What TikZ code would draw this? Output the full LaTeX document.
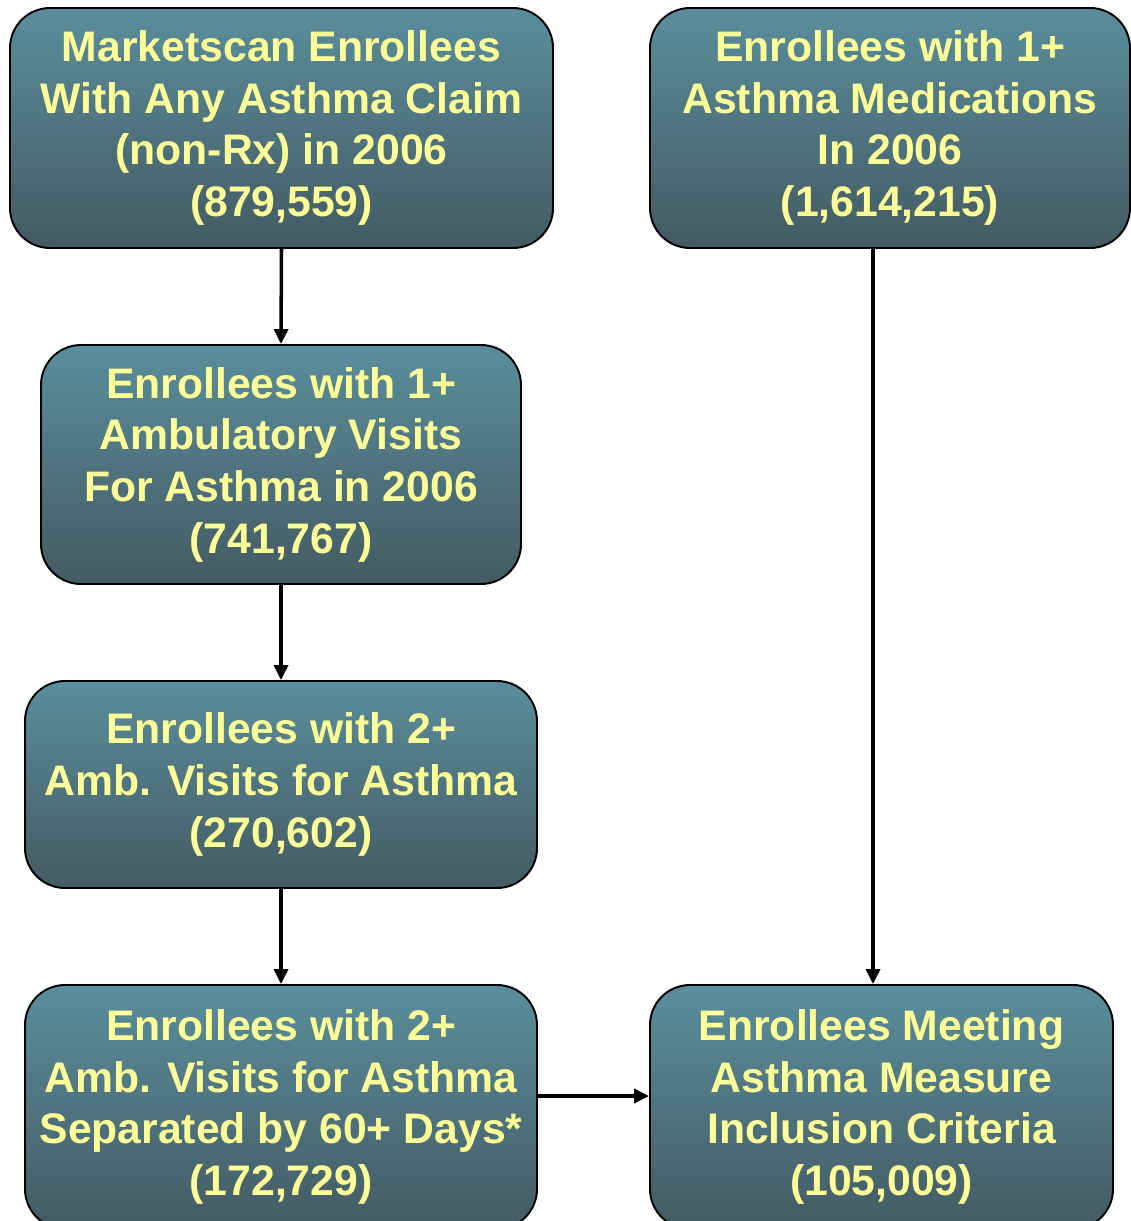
\documentclass[tikz,border=0pt]{standalone}
\usepackage{fontspec}
\setmainfont{Liberation Sans}
\usetikzlibrary{arrows.meta}
\definecolor{boxtop}{HTML}{5A8E9C}
\definecolor{boxbot}{HTML}{445A62}
\definecolor{boxtext}{HTML}{FFFF99}
\begin{document}
\begin{tikzpicture}[x=0.02cm, y=-0.02cm,
	box/.style 2 args={draw=black, line width=1.1pt, rounded corners=0.8cm,
		top color=boxtop, bottom color=boxbot, text=boxtext, align=center,
		font=\fontsize{24.3}{29.4}\selectfont\bfseries, inner sep=0pt,
		minimum width=#1*0.02cm, minimum height=#2*0.02cm},
	arr/.style={line width=2pt, -{Triangle[length=0.3cm, width=0.28cm]}}]
		\useasboundingbox (0,0) rectangle (1131,1221);
		\clip (0,0) rectangle (1131,1221);
		
		\node[box={543}{240}] (claim) at (281.5,128) {Marketscan Enrollees\\With Any Asthma Claim\\(non-Rx) in 2006\\(879,559)};
		\node[box={480}{240}] (meds) at (890,128) {Enrollees with 1+\\Asthma Medications\\In 2006\\(1,614,215)};
		\node[box={480}{239}] (amb) at (281,464.5) {Enrollees with 1+\\Ambulatory Visits\\For Asthma in 2006\\(741,767)};
		\node[box={512}{207}] (twoamb) at (281,784.5) {Enrollees with 2+\\Amb. Visits for Asthma\\(270,602)};
		\node[box={512}{244}] (sep) at (281,1107) {Enrollees with 2+\\Amb. Visits for Asthma\\Separated by 60+ Days*\\(172,729)};
		\node[box={463}{244}] (incl) at (881.5,1107) {Enrollees Meeting\\Asthma Measure\\Inclusion Criteria\\(105,009)};
		
		\coordinate (medsline) at (873,0);
		\coordinate (sepline) at (0,1096);
		
		\draw[arr] (claim.south) -- (amb.north);
		\draw[arr] (amb.south) -- (twoamb.north);
		\draw[arr] (twoamb.south) -- (sep.north);
		\draw[arr] (meds.south -| medsline) -- (incl.north -| medsline);
		\draw[arr] (sep.east |- sepline) -- (incl.west |- sepline);
	\end{tikzpicture}
\end{document}
